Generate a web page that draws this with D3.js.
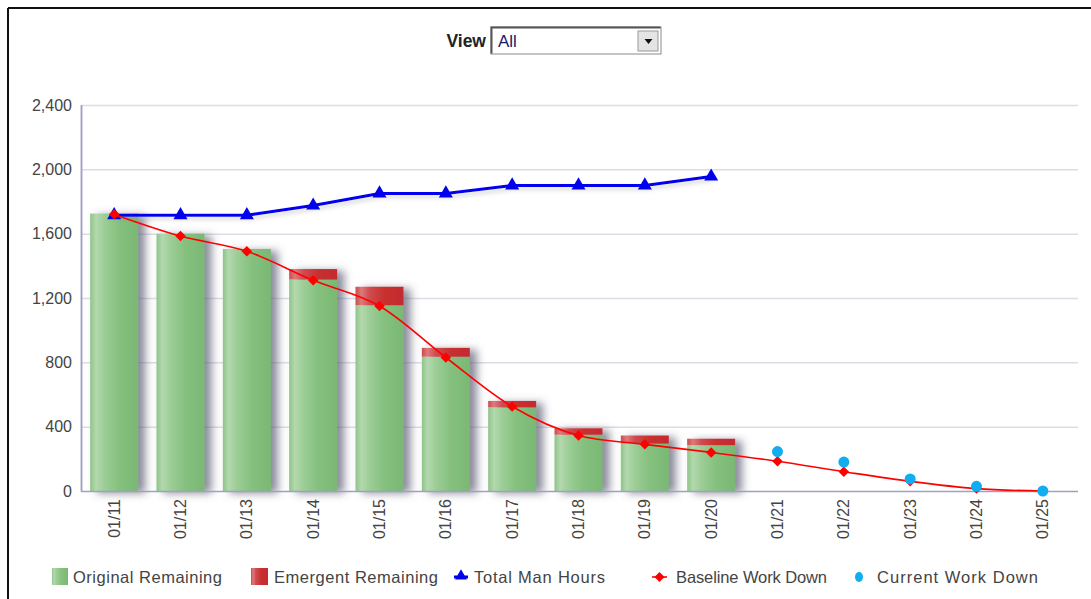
<!DOCTYPE html>
<html><head><meta charset="utf-8">
<script src="https://cdn.jsdelivr.net/npm/d3@7/dist/d3.min.js"></script>
<style>
html,body{margin:0;padding:0;background:#fff;}
svg{display:block;font-family:"Liberation Sans",Arial,sans-serif;}
</style></head>
<body>
<svg id="chart" width="1091" height="599"></svg>
<script>
const categories = ["01/11","01/12","01/13","01/14","01/15","01/16","01/17","01/18","01/19","01/20","01/21","01/22","01/23","01/24","01/25"];
const originalRemaining = [1725,1600,1505,1315,1155,835,520,350,295,285,null,null,null,null,null];
const emergentRemaining = [0,0,0,65,115,55,40,40,50,40,null,null,null,null,null];
const totalManHours = [1715,1715,1715,1775,1850,1850,1900,1900,1900,1955,null,null,null,null,null];
const baselineWorkDown = [1720,1585,1490,1310,1150,830,525,345,290,240,185,120,60,15,0];
const currentWorkDown = [null,null,null,null,null,null,null,null,null,null,245,180,75,29,0];
const yTicks = [0,400,800,1200,1600,2000,2400];
const seriesNames = ["Original Remaining","Emergent Remaining","Total Man Hours","Baseline Work Down","Current Work Down"];

const svg = d3.select("#chart");
const defs = svg.append("defs");

// gradients
const gG = defs.append("linearGradient").attr("id","gGreen").attr("x1","0").attr("x2","1").attr("y1","0").attr("y2","0");
[[0,"#8ec489"],[0.12,"#b3d8ad"],[0.3,"#9ccd96"],[0.6,"#85c07f"],[1,"#7ab874"]].forEach(s=>gG.append("stop").attr("offset",s[0]).attr("stop-color",s[1]));
const gR = defs.append("linearGradient").attr("id","gRed").attr("x1","0").attr("x2","1").attr("y1","0").attr("y2","0");
[[0,"#cc4a4e"],[0.12,"#dc7a7c"],[0.3,"#d04a4e"],[0.6,"#c8302f"],[1,"#c42a30"]].forEach(s=>gR.append("stop").attr("offset",s[0]).attr("stop-color",s[1]));

const shadow = defs.append("filter").attr("id","barShadow").attr("x","-20%").attr("y","-10%").attr("width","160%").attr("height","130%");
shadow.append("feDropShadow").attr("dx",7).attr("dy",2).attr("stdDeviation",4.5).attr("flood-color","#5a5a72").attr("flood-opacity",0.7);
const lshadow = defs.append("filter").attr("id","lineShadow").attr("x","-5%").attr("y","-50%").attr("width","110%").attr("height","200%");
lshadow.append("feDropShadow").attr("dx",2).attr("dy",3).attr("stdDeviation",2).attr("flood-color","#888").attr("flood-opacity",0.35);

// frame
svg.append("line").attr("x1",8).attr("x2",1091).attr("y1",8).attr("y2",8).attr("stroke","#111").attr("stroke-width",2);
svg.append("line").attr("x1",8).attr("x2",8).attr("y1",8).attr("y2",599).attr("stroke","#111").attr("stroke-width",2);

// View selector
svg.append("text").attr("x",486).attr("y",47).attr("text-anchor","end").attr("font-weight","bold").attr("font-size",17.5).attr("fill","#222").text("View");
const sel = svg.append("g");
sel.append("rect").attr("x",491).attr("y",27).attr("width",170).attr("height",27).attr("fill","#fff").attr("stroke","#8a8a8a");
sel.append("path").attr("d","M491.5,53.5 V27.5 H660.5").attr("fill","none").attr("stroke","#555").attr("stroke-width",2);
sel.append("text").attr("x",498).attr("y",47).attr("font-size",17).attr("fill","#1a1a6a").text("All");
sel.append("rect").attr("x",638).attr("y",31).attr("width",20).attr("height",20).attr("fill","#e4e4e4").attr("stroke","#999");
sel.append("path").attr("d","M644.5,39 h8 l-4,5 z").attr("fill","#111");

// scales
const margin = {left:81, right:1076, top:105, bottom:491};
const x = d3.scaleBand().domain(categories).range([margin.left, margin.right]).paddingInner(0.27).paddingOuter(0.135);
const xc = d => x(d) + x.bandwidth()/2;
const y = d3.scaleLinear().domain([0,2400]).range([margin.bottom, margin.top]);

// grid
svg.append("g").selectAll("line").data(yTicks.filter(t=>t>0)).join("line")
  .attr("x1",margin.left).attr("x2",1078).attr("y1",d=>y(d)+0.5).attr("y2",d=>y(d)+0.5)
  .attr("stroke","#dcdce6").attr("stroke-width",1.5);

// y axis
const yAxis = svg.append("g").attr("transform",`translate(${margin.left},0)`)
  .call(d3.axisLeft(y).tickValues(yTicks).tickFormat(d3.format(",")).tickSize(0).tickPadding(9));
yAxis.select(".domain").attr("stroke","#a0a0c4").attr("stroke-width",1.5);
yAxis.selectAll("text").attr("font-size",16).attr("fill","#444").attr("font-family","Liberation Sans, Arial, sans-serif");

// bars
const barData = categories.map((c,i)=>({c, o:originalRemaining[i], e:emergentRemaining[i]})).filter(d=>d.o!=null);
const bw = 48;
const bars = svg.append("g");
const bg = bars.selectAll("g").data(barData).join("g").attr("filter","url(#barShadow)");
bg.append("rect").attr("x",d=>xc(d.c)-bw/2).attr("width",bw)
  .attr("y",d=>y(d.o)).attr("height",d=>y(0)-y(d.o)).attr("fill","url(#gGreen)");
bg.filter(d=>d.e>0).append("rect").attr("x",d=>xc(d.c)-bw/2).attr("width",bw)
  .attr("y",d=>y(d.o+d.e)).attr("height",d=>y(d.o)-y(d.o+d.e)).attr("fill","url(#gRed)");

// x axis
const xAxis = svg.append("g").attr("transform",`translate(0,${margin.bottom})`)
  .call(d3.axisBottom(x).tickSize(0).tickPadding(0));
xAxis.select(".domain").attr("stroke","#a0a0c4").attr("stroke-width",1.5).attr("d",`M${margin.left},0.5H1078`);
xAxis.selectAll("text").attr("font-size",16).attr("fill","#444").attr("font-family","Liberation Sans, Arial, sans-serif")
  .attr("transform","rotate(-90)").attr("text-anchor","end").attr("dy","0.35em").attr("x",-8).attr("y",0);

// y-axis line on top of bars
svg.append("line").attr("x1",margin.left+0.5).attr("x2",margin.left+0.5).attr("y1",margin.top).attr("y2",margin.bottom).attr("stroke","#a0a0c4").attr("stroke-width",1.5);

// total man hours
const tmh = categories.map((c,i)=>({c,v:totalManHours[i]})).filter(d=>d.v!=null);
const lineLin = d3.line().x(d=>xc(d.c)).y(d=>y(d.v));
const lineCurve = d3.line().x(d=>xc(d.c)).y(d=>y(d.v)).curve(d3.curveMonotoneX);
svg.append("path").datum(tmh).attr("d",lineLin).attr("fill","none").attr("stroke","#0000ee").attr("stroke-width",3).attr("stroke-linejoin","round").attr("filter","url(#lineShadow)");
svg.append("g").selectAll("path").data(tmh).join("path")
  .attr("transform",d=>`translate(${xc(d.c)},${y(d.v)})`)
  .attr("d",d3.symbol(d3.symbolTriangle,85)).attr("fill","#0000ee");

// baseline
const bwd = categories.map((c,i)=>({c,v:baselineWorkDown[i]})).filter(d=>d.v!=null);
svg.append("path").datum(bwd).attr("d",lineCurve).attr("fill","none").attr("stroke","#ff0000").attr("stroke-width",1.6);
svg.append("g").selectAll("path").data(bwd).join("path")
  .attr("transform",d=>`translate(${xc(d.c)},${y(d.v)}) rotate(45)`)
  .attr("d",d3.symbol(d3.symbolSquare,55)).attr("fill","#ff0000");

// current work down
const cwd = categories.map((c,i)=>({c,v:currentWorkDown[i]})).filter(d=>d.v!=null);
svg.append("g").selectAll("circle").data(cwd).join("circle")
  .attr("cx",d=>xc(d.c)).attr("cy",d=>y(d.v)).attr("r",5.5).attr("fill","#10aef0");

// legend
const leg = svg.append("g").attr("font-size",16.5).attr("fill","#444");
const ly = 577;
const legLens = [149,164,131,151,161];
leg.append("rect").attr("x",52).attr("y",ly-9).attr("width",16).attr("height",17).attr("fill","url(#gGreen)");
leg.append("text").attr("x",73).attr("y",ly+6).attr("textLength",legLens[0]).attr("lengthAdjust","spacing").text(seriesNames[0]);
leg.append("rect").attr("x",251).attr("y",ly-9).attr("width",17).attr("height",17).attr("fill","url(#gRed)");
leg.append("text").attr("x",274).attr("y",ly+6).attr("textLength",legLens[1]).attr("lengthAdjust","spacing").text(seriesNames[1]);
leg.append("line").attr("x1",454).attr("x2",468).attr("y1",ly).attr("y2",ly).attr("stroke","#0000ee").attr("stroke-width",3);
leg.append("path").attr("transform",`translate(461,${ly-1})`).attr("d",d3.symbol(d3.symbolTriangle,60)).attr("fill","#0000ee");
leg.append("text").attr("x",474).attr("y",ly+6).attr("textLength",legLens[2]).attr("lengthAdjust","spacing").text(seriesNames[2]);
leg.append("line").attr("x1",652).attr("x2",667).attr("y1",ly).attr("y2",ly).attr("stroke","#ff0000").attr("stroke-width",1.6);
leg.append("path").attr("transform",`translate(659.5,${ly}) rotate(45)`).attr("d",d3.symbol(d3.symbolSquare,50)).attr("fill","#ff0000");
leg.append("text").attr("x",676).attr("y",ly+6).attr("textLength",legLens[3]).attr("lengthAdjust","spacing").text(seriesNames[3]);
leg.append("ellipse").attr("cx",859).attr("cy",ly).attr("rx",4).attr("ry",5).attr("fill","#10aef0");
leg.append("text").attr("x",877).attr("y",ly+6).attr("textLength",legLens[4]).attr("lengthAdjust","spacing").text(seriesNames[4]);
</script>
</body></html>
